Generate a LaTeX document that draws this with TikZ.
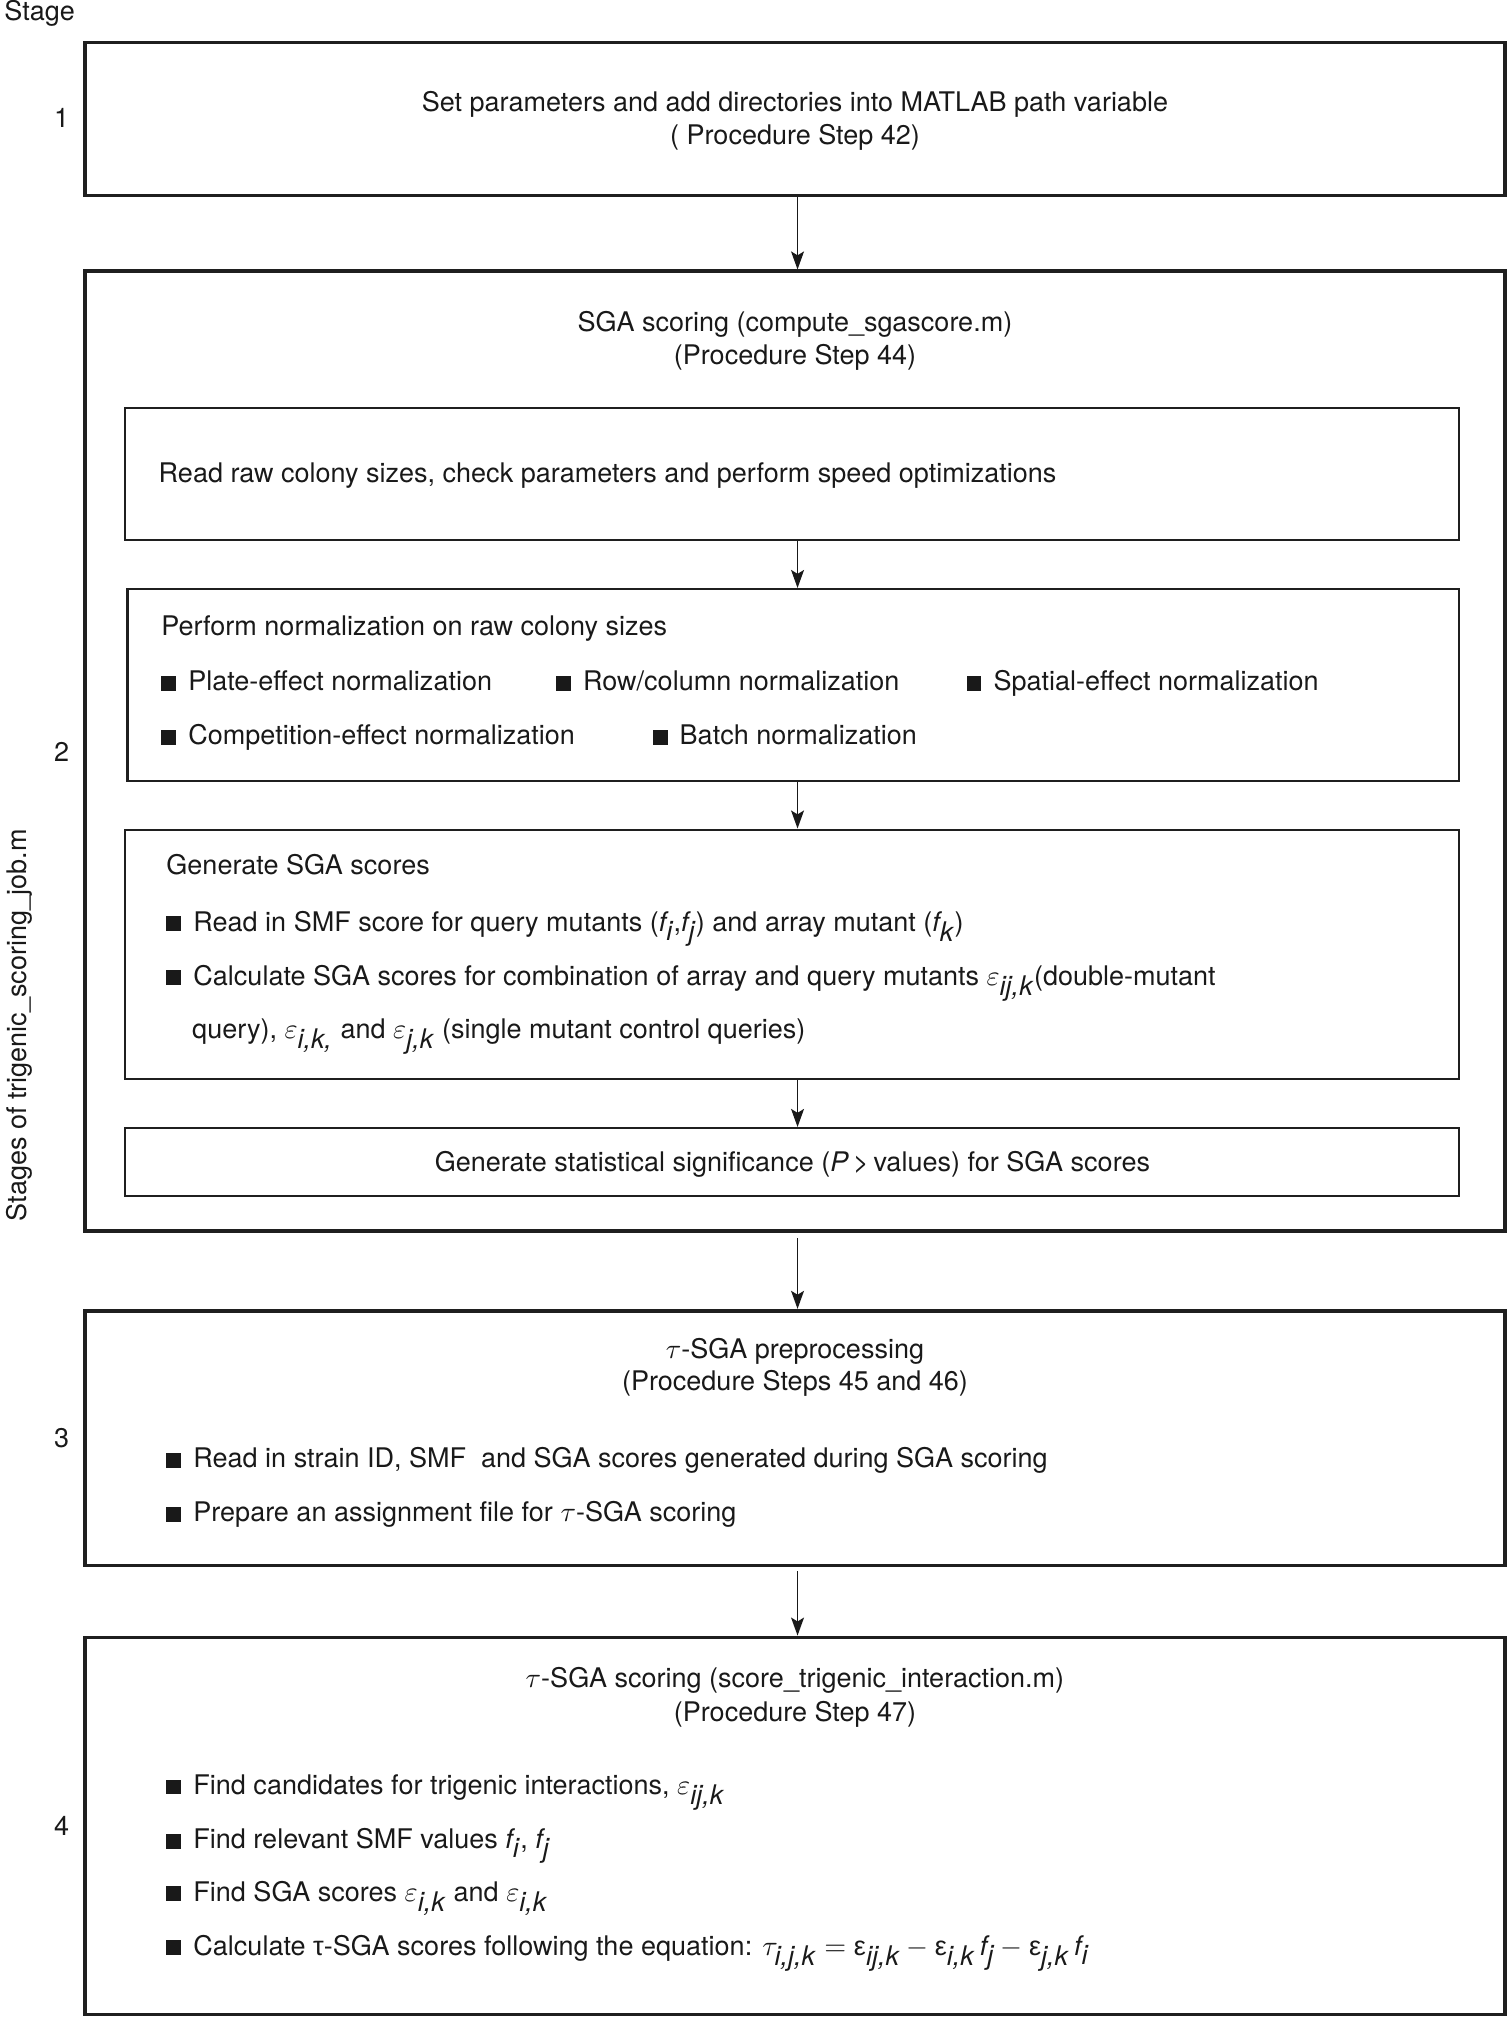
\documentclass[tikz,border=0pt]{standalone}
\usepackage{fontspec}
\setmainfont{TeX Gyre Heros}
\newfontfamily\grk{Liberation Sans}
\usetikzlibrary{arrows.meta}
\newcommand{\bul}{\rule{5.8pt}{5.8pt}\hspace{4.7pt}}
\newcommand{\fsub}[1]{$\textit{f}_{\textit{#1}}$}
\newcommand{\epsub}[1]{$\varepsilon_{\textit{#1}}$}
\begin{document}
\begin{tikzpicture}[x=0.5pt,y=-0.5pt,
  outerbox/.style={draw=black!88, line width=1.5pt, inner sep=0pt, minimum width=552pt},
  innerbox/.style={draw=black!88, line width=0.9pt, inner sep=0pt},
  txt/.style={inner sep=0pt, font=\fontsize{10.5}{12.5}\selectfont, text=black!90},
  arr/.style={-{Stealth[length=7pt,width=5pt,inset=1.5pt]}, line width=0.7pt, draw=black!90}]
\useasboundingbox (0,0) rectangle (1173,1568);
% outer boxes
\node[outerbox, minimum height=59.5pt] (b1) at (618,92.5) {};
\node[outerbox, minimum height=373pt] (b2) at (618,584) {};
\node[outerbox, minimum height=99pt] (b3) at (618,1118) {};
\node[outerbox, minimum height=146.5pt] (b4) at (618,1419.5) {};
% inner boxes
\node[innerbox, minimum width=518.5pt, minimum height=51.5pt] (ia) at (615.5,368.5) {};
\node[innerbox, minimum width=517.5pt, minimum height=74.5pt] (ib) at (616.5,532.5) {};
\node[innerbox, minimum width=518.5pt, minimum height=97pt] (ic) at (615.5,742) {};
\node[innerbox, minimum width=518.5pt, minimum height=26.5pt] (id) at (615.5,903.5) {};
% side labels
\node[txt, anchor=base west] (stg) at (3,16) {Stage};
\node[txt, anchor=base] (n1) at (48,99.5) {1};
\node[txt, anchor=base] (n2) at (48,592) {2};
\node[txt, anchor=base] (n3) at (48,1125) {3};
\node[txt, anchor=base] (n4) at (48,1427) {4};
\node[txt, rotate=90] (side) at (15,797) {Stages of trigenic\_scoring\_job.m};
% box 1
\node[txt, anchor=base] (t1a) at (618,87) {Set parameters and add directories into MATLAB path variable};
\node[txt, anchor=base] (t1b) at (618,112) {( Procedure Step 42)};
% box 2
\node[txt, anchor=base] (t2a) at (618,258) {SGA scoring (compute\_sgascore.m)};
\node[txt, anchor=base] (t2b) at (618,283) {(Procedure Step 44)};
\node[txt, anchor=base west] (ta) at (123,375) {Read raw colony sizes, check parameters and perform speed optimizations};
\node[txt, anchor=base west] (tb0) at (125,494) {Perform normalization on raw colony sizes};
\node[txt, anchor=base west] (tb1) at (125,537) {\bul Plate-effect normalization};
\node[txt, anchor=base west] (tb2) at (432,537) {\bul Row/column normalization};
\node[txt, anchor=base west] (tb3) at (751,537) {\bul Spatial-effect normalization};
\node[txt, anchor=base west] (tb4) at (125,579) {\bul Competition-effect normalization};
\node[txt, anchor=base west] (tb5) at (507,579) {\bul Batch normalization};
\node[txt, anchor=base west] (tc0) at (129,680) {Generate SGA scores};
\node[txt, anchor=base west] (tc1) at (129,724) {\bul Read in SMF score for query mutants (\fsub{i},\fsub{j}) and array mutant (\fsub{k})};
\node[txt, anchor=base west] (tc2) at (129,766) {\bul Calculate SGA scores for combination of array and query mutants \epsub{ij,k}(double-mutant};
\node[txt, anchor=base west] (tc3) at (149,807) {query), \epsub{i,k,} and \epsub{j,k} (single mutant control queries)};
\node[txt, anchor=base] (td) at (616,911) {Generate statistical significance (\textit{P}\,>\,values) for SGA scores};
% box 3
\node[txt, anchor=base] (t3a) at (618,1056) {$\tau$-SGA preprocessing};
\node[txt, anchor=base] (t3b) at (618,1081) {(Procedure Steps 45 and 46)};
\node[txt, anchor=base west] (t3c) at (129,1141) {\bul Read in strain ID, SMF\ \ and SGA scores generated during SGA scoring};
\node[txt, anchor=base west] (t3d) at (129,1183) {\bul Prepare an assignment file for $\tau$-SGA scoring};
% box 4
\node[txt, anchor=base] (t4a) at (618,1312) {$\tau$-SGA scoring (score\_trigenic\_interaction.m)};
\node[txt, anchor=base] (t4b) at (618,1338) {(Procedure Step 47)};
\node[txt, anchor=base west] (t4c) at (129,1395) {\bul Find candidates for trigenic interactions, \epsub{ij,k}};
\node[txt, anchor=base west] (t4d) at (129,1437) {\bul Find relevant SMF values \fsub{i}, \fsub{j}};
\node[txt, anchor=base west] (t4e) at (129,1478) {\bul Find SGA scores \epsub{i,k} and \epsub{i,k}};
\node[txt, anchor=base west] (t4f) at (129,1520) {\bul Calculate {\grk τ}-SGA scores following the equation: $\tau_{\textit{i,j,k}} = \mbox{\grk ε}_{\textit{ij,k}} - \mbox{\grk ε}_{\textit{i,k}}\,\textit{f}_{\textit{j}} - \mbox{\grk ε}_{\textit{j,k}}\,\textit{f}_{\textit{i}}$};
% arrows
\coordinate (ax) at (620,0);
\draw[arr] (b1.south -| ax) -- (b2.north -| ax);
\draw[arr] (ia.south -| ax) -- (ib.north -| ax);
\draw[arr] (ib.south -| ax) -- (ic.north -| ax);
\draw[arr] (ic.south -| ax) -- (id.north -| ax);
\draw[arr, shorten <=2pt] (b2.south -| ax) -- (b3.north -| ax);
\draw[arr, shorten <=1.5pt] (b3.south -| ax) -- (b4.north -| ax);
\end{tikzpicture}
\end{document}
